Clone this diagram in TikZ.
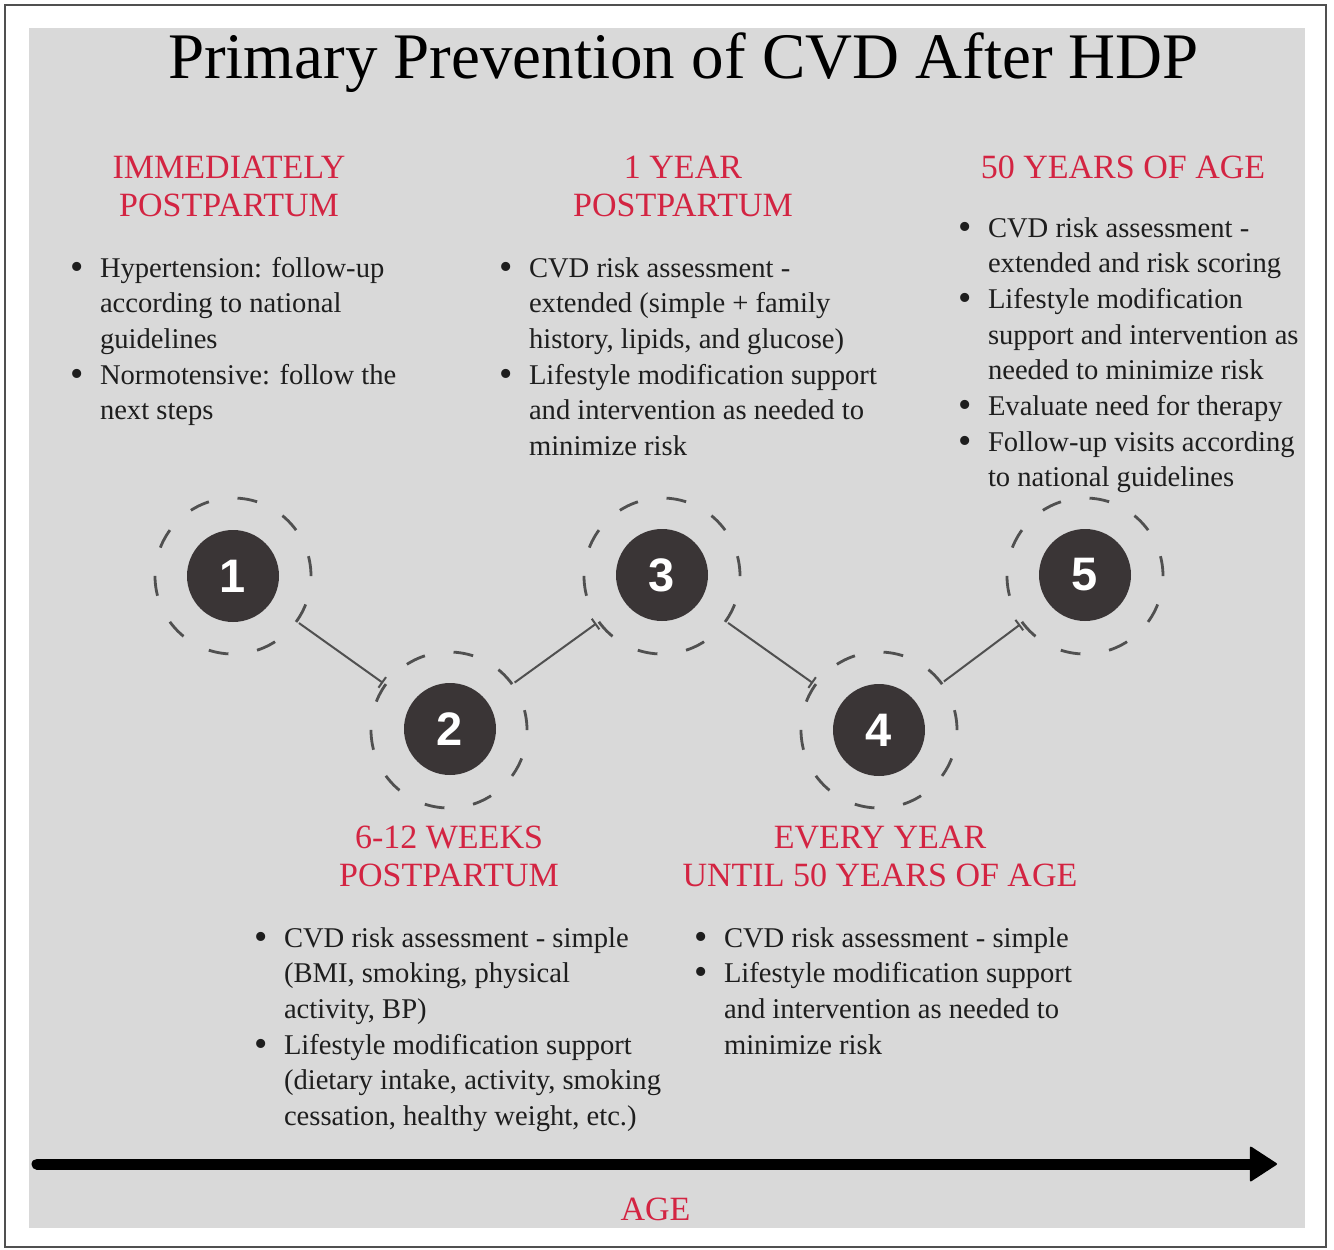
\documentclass[tikz,border=0pt]{standalone}
\usepackage{fontspec}
\setmainfont{Liberation Serif}
\newfontfamily\numfont{Liberation Sans}
\usetikzlibrary{arrows.meta}
\definecolor{panel}{HTML}{D9D9D9}
\definecolor{hred}{RGB}{211,36,66}
\definecolor{dark}{HTML}{3A3536}
\definecolor{txt}{HTML}{1E1E1E}
\definecolor{dashc}{HTML}{505050}
\definecolor{framec}{HTML}{505050}
\newcommand\bl{\makebox[28pt][l]{\makebox[10pt][c]{\raisebox{-2.2pt}{\fontsize{38}{38}\selectfont\textbullet}}}}
\newcommand\ind{\hspace*{28pt}}
\newcommand\bodyblock[1]{\vtop{\baselineskip=35.7pt\lineskiplimit=-100pt\lineskip=0pt #1}}
\newcommand\headtwo[2]{\vtop{\baselineskip=38.5pt\lineskiplimit=-100pt\lineskip=0pt\hbox to 0pt{\hss#1\hss}\hbox to 0pt{\hss#2\hss}}}
\tikzset{
  body/.style={anchor=base west, inner sep=0pt, outer sep=0pt, text=txt, font=\fontsize{28.6}{35.7}\selectfont},
  head/.style={anchor=base, inner sep=0pt, outer sep=0pt, text=hred, font=\fontsize{34}{38.5}\selectfont},
  numc/.style={circle, fill=dark, minimum size=92pt, inner sep=0pt, text=white, font=\numfont\bfseries\fontsize{47}{47}\selectfont},
  ring/.style={circle, draw=dashc, line width=2.8pt, dash pattern=on 20pt off 29pt, minimum size=156pt, inner sep=0pt, outer sep=3pt},
  link/.style={draw=dashc, line width=2pt, -{Bar[width=13pt, line width=2pt]}},
}
\begin{document}
\begin{tikzpicture}[x=1pt, y=-1pt]
\useasboundingbox (0,0) rectangle (1334,1250);
% frame and panel
\draw[framec, line width=2pt] (4.5,4.5) rectangle (1326,1247);
\fill[panel] (29,28) rectangle (1305,1228);
% title
\node[anchor=base, inner sep=0pt, text=black, font=\fontsize{65}{65}\selectfont] (title) at (683.5,78) {Primary Prevention of CVD After HDP};
% rings and numbers
\node[ring] (r1) at (233,576) {};
\node[ring] (r2) at (449,730) {};
\node[ring] (r3) at (662,576) {};
\node[ring] (r4) at (879,730) {};
\node[ring] (r5) at (1085,576) {};
\node[numc] (n1) at (233,576) {1};
\node[numc] (n2) at (450,729) {2};
\node[numc] (n3) at (662,575) {3};
\node[numc] (n4) at (879,730) {4};
\node[numc] (n5) at (1085,575) {5};
\draw[link] (r1) -- (r2);
\draw[link] (r2) -- (r3);
\draw[link] (r3) -- (r4);
\draw[link] (r4) -- (r5);
% headings
\node[head] (h1) at (229,178) {\headtwo{IMMEDIATELY}{POSTPARTUM}};
\node[head] (h3) at (683,178) {\headtwo{1 YEAR}{POSTPARTUM}};
\node[head] (h5) at (1123,178) {50 YEARS OF AGE};
\node[head] (h2) at (449,848) {\headtwo{6-12 WEEKS}{POSTPARTUM}};
\node[head] (h4) at (880,848) {\headtwo{EVERY YEAR}{UNTIL 50 YEARS OF AGE}};
% bodies
\node[body] (b1) at (72,277) {\bodyblock{%
  \hbox{\bl Hypertension: follow-up}
  \hbox{\ind according to national}
  \hbox{\ind guidelines}
  \hbox{\bl Normotensive: follow the}
  \hbox{\ind next steps}}};
\node[body] (b3) at (501,277) {\bodyblock{%
  \hbox{\bl CVD risk assessment -}
  \hbox{\ind extended (simple + family}
  \hbox{\ind history, lipids, and glucose)}
  \hbox{\bl Lifestyle modification support}
  \hbox{\ind and intervention as needed to}
  \hbox{\ind minimize risk}}};
\node[body] (b5) at (960,237) {\bodyblock{%
  \hbox{\bl CVD risk assessment -}
  \hbox{\ind extended and risk scoring}
  \hbox{\bl Lifestyle modification}
  \hbox{\ind support and intervention as}
  \hbox{\ind needed to minimize risk}
  \hbox{\bl Evaluate need for therapy}
  \hbox{\bl Follow-up visits according}
  \hbox{\ind to national guidelines}}};
\node[body] (b2) at (256,947) {\bodyblock{%
  \hbox{\bl CVD risk assessment - simple}
  \hbox{\ind (BMI, smoking, physical}
  \hbox{\ind activity, BP)}
  \hbox{\bl Lifestyle modification support}
  \hbox{\ind (dietary intake, activity, smoking}
  \hbox{\ind cessation, healthy weight, etc.)}}};
\node[body] (b4) at (696,947) {\bodyblock{%
  \hbox{\bl CVD risk assessment - simple}
  \hbox{\bl Lifestyle modification support}
  \hbox{\ind and intervention as needed to}
  \hbox{\ind minimize risk}}};
% age axis
\coordinate (as) at (37,1164);
\coordinate (ae) at (1277,1164);
\draw[black, line width=11pt, line cap=round, -{Triangle[length=28pt, width=36pt, round, line width=2pt]}] (as) -- (ae);
\node[head] (age) at (655.5,1220) {AGE};
\end{tikzpicture}
\end{document}
